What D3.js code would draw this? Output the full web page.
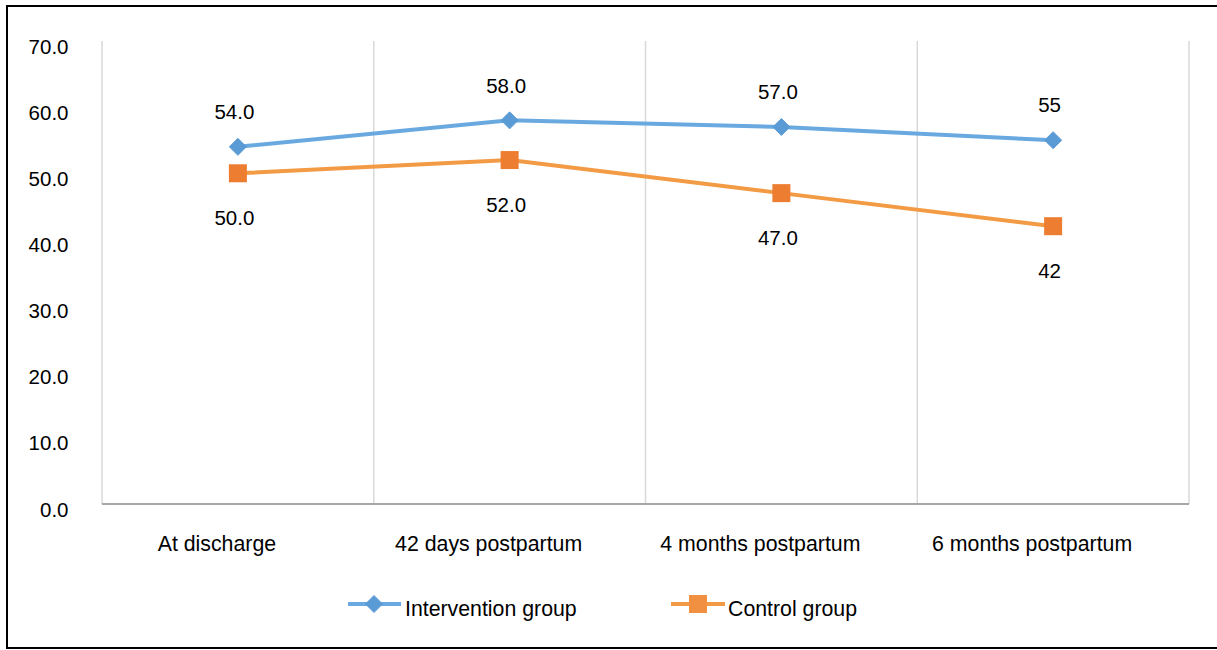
<!DOCTYPE html>
<html><head><meta charset="utf-8">
<script src="https://cdn.jsdelivr.net/npm/d3@7"></script>
<style>body{margin:0;background:#fff}svg{display:block}text{font-family:"Liberation Sans",Arial,Helvetica,sans-serif;fill:#000}</style>
</head><body>
<script>
const categories = ["At discharge","42 days postpartum","4 months postpartum","6 months postpartum"];
const intervention = [54, 58, 57, 55];
const control = [50, 52, 47, 42];
const interventionLabels = ["54.0","58.0","57.0","55"];
const controlLabels = ["50.0","52.0","47.0","42"];
const yTicks = [0,10,20,30,40,50,60,70];
const seriesNames = ["Intervention group","Control group"];

const W=1217,H=650;
const svg=d3.select("body").append("svg").attr("width",W).attr("height",H);
svg.append("rect").attr("x",7).attr("y",6).attr("width",1230).attr("height",642).attr("fill","none").attr("stroke","#000").attr("stroke-width",2);

const x=d3.scaleBand().domain(categories).range([102,1189]);
const y=d3.scaleLinear().domain([0,70]).range([504,41]);

const bounds=categories.map(c=>x(c)).concat([x.range()[1]]);
svg.append("g").selectAll("line").data(bounds).join("line")
 .attr("x1",d=>d).attr("x2",d=>d).attr("y1",y(70)).attr("y2",y(0))
 .attr("stroke","#D9D9D9").attr("stroke-width",1.5);
svg.append("line").attr("x1",102).attr("x2",1189).attr("y1",y(0)).attr("y2",y(0)).attr("stroke","#A6A6A6").attr("stroke-width",2);

const yAxis=d3.axisLeft(y).tickValues(yTicks).tickFormat(d3.format(".1f")).tickSize(0).tickPadding(0);
const ga=svg.append("g").attr("transform","translate(68.5,5.5)").call(yAxis);
ga.select(".domain").remove();
ga.selectAll("text").attr("font-size",20.5).attr("font-family","Liberation Sans, Arial, sans-serif").attr("fill","#000");

const xAxis=d3.axisBottom(x).tickSize(0).tickPadding(0);
const gx=svg.append("g").attr("transform","translate(-21,536)").call(xAxis);
gx.select(".domain").remove();
gx.selectAll("text").attr("font-size",21.3).attr("font-family","Liberation Sans, Arial, sans-serif").attr("fill","#000");

const cx=c=>x(c)+x.bandwidth()/2;
const line=d3.line().x((d,i)=>cx(categories[i])).y(d=>y(d));
svg.append("path").datum(control).attr("d",line).attr("fill","none").attr("stroke","#F39A45").attr("stroke-width",4);
svg.append("path").datum(intervention).attr("d",line).attr("fill","none").attr("stroke","#69A9E0").attr("stroke-width",4);

function drawDiamond(g,px,py,s){
  g.append("path").attr("d",`M${px},${py-s}L${px+s},${py}L${px},${py+s}L${px-s},${py}Z`).attr("fill","#5B9BD5").attr("stroke","#5B9BD5").attr("stroke-width",1);
}
const gm=svg.append("g");
control.forEach((v,i)=>{
  gm.append("rect").attr("x",cx(categories[i])-9).attr("y",y(v)-9).attr("width",18).attr("height",18).attr("fill","#ED7D31");
});
intervention.forEach((v,i)=>drawDiamond(gm,cx(categories[i]),y(v),8.5));

svg.append("g").selectAll("text").data(intervention).join("text")
 .attr("x",(d,i)=>cx(categories[i])-3.5).attr("y",d=>y(d)-35).attr("dy","0.35em")
 .attr("text-anchor","middle").attr("font-size",20.5).text((d,i)=>interventionLabels[i]);
svg.append("g").selectAll("text").data(control).join("text")
 .attr("x",(d,i)=>cx(categories[i])-3.5).attr("y",d=>y(d)+45).attr("dy","0.35em")
 .attr("text-anchor","middle").attr("font-size",20.5).text((d,i)=>controlLabels[i]);

const lg=svg.append("g");
lg.append("line").attr("x1",348).attr("x2",401).attr("y1",604).attr("y2",604).attr("stroke","#69A9E0").attr("stroke-width",4);
drawDiamond(lg,374,604,8.5);
lg.append("text").attr("x",405).attr("y",609).attr("dy","0.35em").attr("font-size",21.3).text(seriesNames[0]);
lg.append("line").attr("x1",671).attr("x2",725).attr("y1",604).attr("y2",604).attr("stroke","#F39A45").attr("stroke-width",4);
lg.append("rect").attr("x",689).attr("y",595).attr("width",18).attr("height",18).attr("fill","#F09040");
lg.append("text").attr("x",728).attr("y",609).attr("dy","0.35em").attr("font-size",21.3).text(seriesNames[1]);
</script>
</body></html>
